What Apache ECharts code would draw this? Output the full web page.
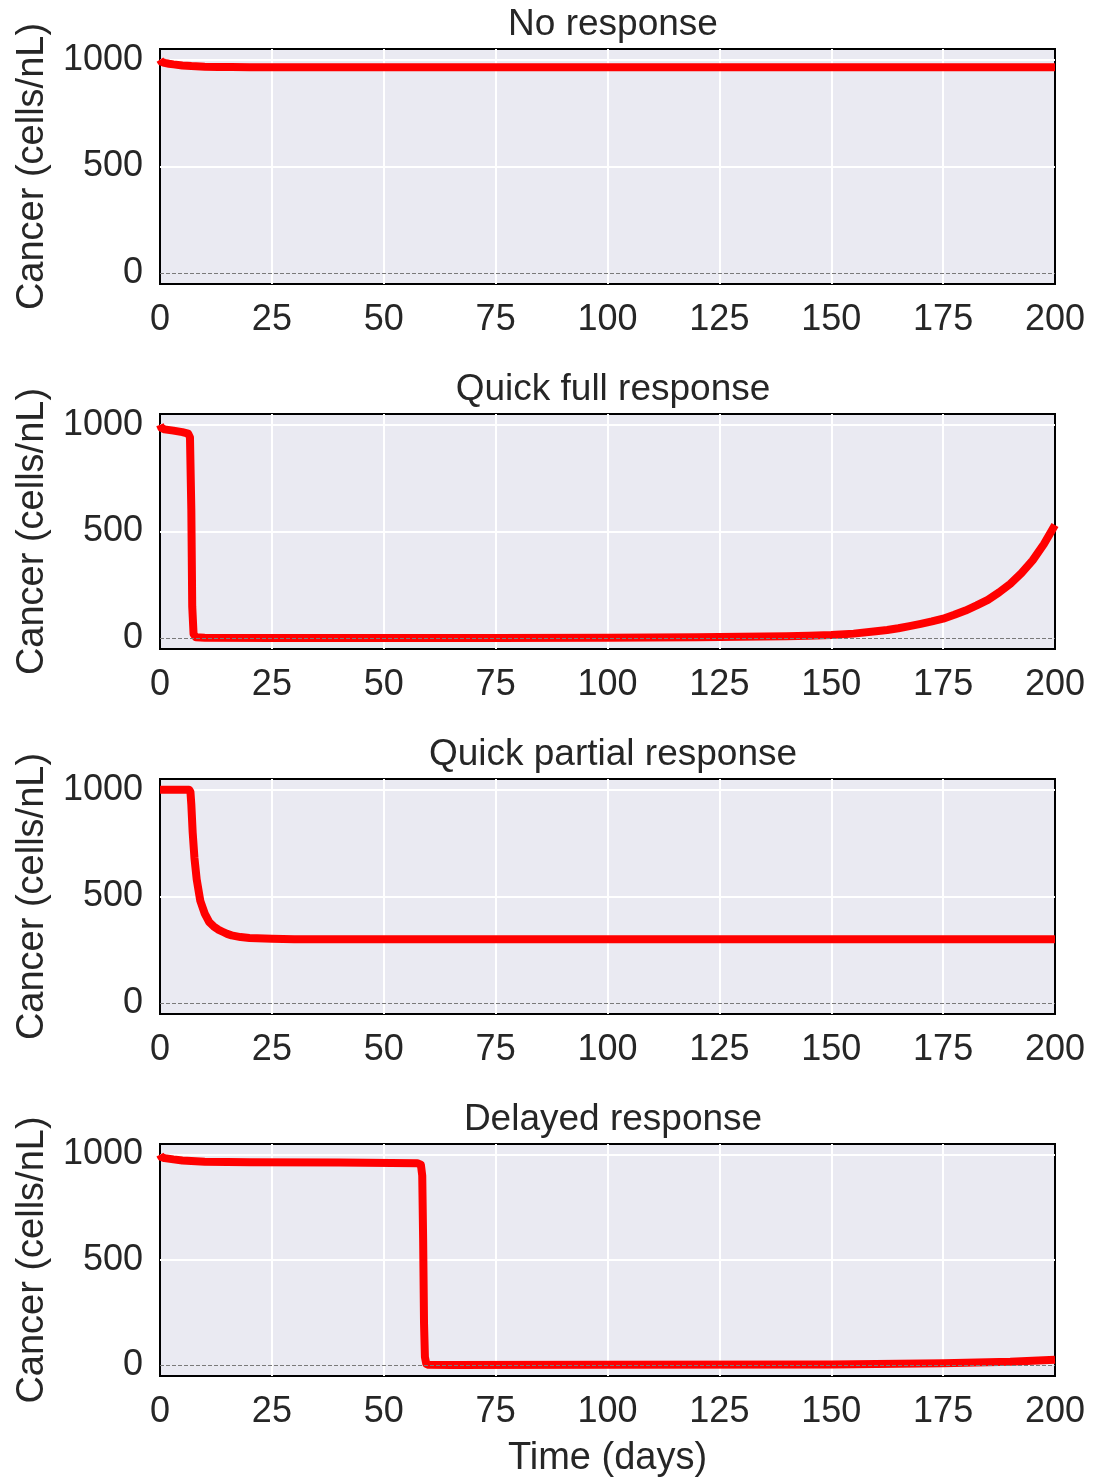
<!DOCTYPE html>
<html>
<head>
<meta charset="utf-8">
<script src="https://cdn.jsdelivr.net/npm/echarts@6/dist/echarts.min.js"></script>
<style>
html,body{margin:0;padding:0;background:#fff;}
#chart{width:1093px;height:1479px;}
</style>
</head>
<body>
<div id="chart"></div>
<script>
// ---- Data ----
const titles = ['No response', 'Quick full response', 'Quick partial response', 'Delayed response'];
const yTickValues = [0, 500, 1000];
const xGridValues = [25, 50, 75, 100, 125, 150, 175];

const noRespT = [0, 0.3, 1, 2, 3, 5, 7, 10, 13, 16, 20, 50, 100, 150, 200];
const noRespV = [1000, 990, 985, 981, 978, 973, 970, 967, 966, 965.5, 965, 965, 965, 965, 965];

const quickFullT = [0, 0.3, 1, 3, 5, 6.3, 6.7, 7.0, 7.2, 7.5, 8, 10, 25, 50, 75, 100, 110, 120, 130, 140, 145, 150, 155, 160, 162.5, 165, 167.5, 170, 172.5, 175, 177.5, 180, 182.5, 185, 187.5, 190, 192.5, 195, 197.5, 200];
const quickFullV = [1000, 985, 978, 972, 965, 958, 940, 600, 150, 20, 5, 3, 2, 2, 2, 2.5, 3.5, 5, 7, 10, 12, 15, 22, 33, 39, 47, 57, 68, 79, 92, 110, 130, 154, 180, 215, 255, 305, 365, 440, 530];

const quickPartialT = [0, 6.5, 6.8, 7.0, 7.3, 7.7, 8.2, 9, 10, 11, 12, 13, 14, 15, 16, 18, 20, 25, 30, 100, 200];
const quickPartialV = [1000, 1000, 990, 930, 800, 680, 580, 480, 420, 380, 360, 345, 335, 325, 318, 310, 306, 302, 300, 300, 300];

const delayedT = [0, 0.3, 1, 3, 5, 10, 20, 40, 57.5, 58.3, 58.6, 58.8, 59.0, 59.2, 59.5, 60, 65, 100, 150, 175, 190, 200];
const delayedV = [1000, 988, 983, 977, 972, 966, 963, 962, 959, 952, 900, 600, 200, 40, 8, 3, 2, 3, 5, 10, 17, 27];

const seriesT = [noRespT, quickFullT, quickPartialT, delayedT];
const seriesV = [noRespV, quickFullV, quickPartialV, delayedV];

// ---- Layout ----
const gridTops = [49, 414, 779, 1144];
const gridH = 235;
const FONT = "'Liberation Sans', Arial, sans-serif";
const TXT = '#262626';

const grids = [], xAxes = [], yAxes = [], series = [], titleArr = [];
for (let i = 0; i < 4; i++) {
  grids.push({
    left: 160, right: 38, top: gridTops[i], height: gridH,
    show: true, backgroundColor: '#EAEAF2', borderColor: '#000', borderWidth: 2
  });
  xAxes.push({
    type: 'value', gridIndex: i, min: 0, max: 200, interval: 25,
    axisLine: {show: false}, axisTick: {show: false},
    axisLabel: {color: TXT, fontSize: 36, fontFamily: FONT, margin: 18},
    splitLine: {show: false},
    name: i === 3 ? 'Time (days)' : '',
    nameLocation: 'middle', nameGap: 64,
    nameTextStyle: {color: TXT, fontSize: 38, fontFamily: FONT}
  });
  yAxes.push({
    type: 'value', gridIndex: i, min: -50, max: 1050,
    axisLine: {show: false},
    axisTick: {show: false, customValues: yTickValues},
    axisLabel: {color: TXT, fontSize: 36, fontFamily: FONT, margin: 17,
                customValues: yTickValues, formatter: v => String(v)},
    splitLine: {show: false},
    name: 'Cancer (cells/nL)', nameLocation: 'middle', nameRotate: 90, nameGap: 104,
    nameTextStyle: {color: TXT, fontSize: 38, fontFamily: FONT}
  });
  titleArr.push({
    text: titles[i], left: 608, textAlign: 'center', top: gridTops[i] - 48,
    textStyle: {color: TXT, fontSize: 37, fontWeight: 'normal', fontFamily: FONT}
  });
  const data = seriesT[i].map((t, k) => [t, seriesV[i][k]]);
  // white grid lines (underneath the curve)
  series.push({
    type: 'line', xAxisIndex: i, yAxisIndex: i, data: data, z: 1,
    showSymbol: false, silent: true, lineStyle: {opacity: 0},
    markLine: {
      z: 1, silent: true, symbol: 'none', label: {show: false},
      lineStyle: {color: '#fff', width: 2, type: 'solid'},
      data: yTickValues.filter(v => v !== 0).map(v => ({yAxis: v}))
        .concat(xGridValues.map(v => ({xAxis: v})))
    }
  });
  // the red curve
  series.push({
    type: 'line', xAxisIndex: i, yAxisIndex: i, data: data, z: 3,
    showSymbol: false, silent: true,
    lineStyle: {color: '#ff0000', width: 8, join: 'round', cap: 'butt'}
  });
  // dashed zero reference line (on top)
  series.push({
    type: 'line', xAxisIndex: i, yAxisIndex: i, data: data, z: 10,
    showSymbol: false, silent: true, lineStyle: {opacity: 0},
    markLine: {
      z: 10, silent: true, symbol: 'none', label: {show: false},
      lineStyle: {color: '#7a7a7a', width: 1.2, type: [4, 2]},
      data: [{yAxis: 0}]
    }
  });
}

const chart = echarts.init(document.getElementById('chart'), null, {renderer: 'canvas'});
chart.setOption({
  animation: false,
  backgroundColor: '#fff',
  title: titleArr,
  grid: grids,
  xAxis: xAxes,
  yAxis: yAxes,
  series: series
});
</script>
</body>
</html>
